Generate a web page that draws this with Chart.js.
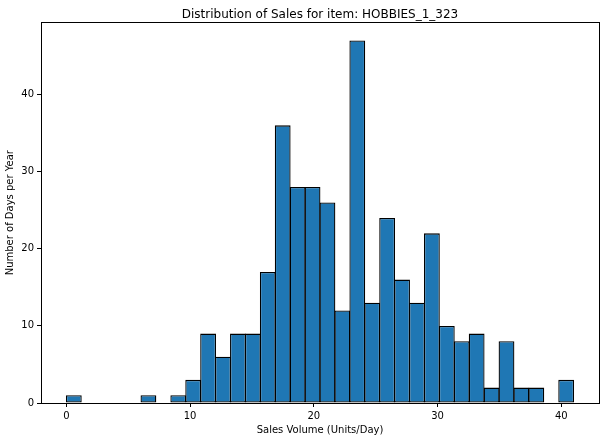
<!DOCTYPE html>
<html>
<head>
<meta charset="utf-8">
<script src="https://cdn.jsdelivr.net/npm/chart.js@4.4.1/dist/chart.umd.min.js"></script>
<style>
  html, body { margin: 0; padding: 0; background: #fff; }
  #wrap { width: 606px; height: 441px; position: relative; }
</style>
</head>
<body>
<div id="wrap"><canvas id="histChart"></canvas></div>
<script>
// histogram: 34 equal bins between 0 and 41
const binStart = 0;
const binEnd = 41;
const binCounts = [1, 0, 0, 0, 0, 1, 0, 1, 3, 9, 6, 9, 9, 17, 36, 28, 28, 26, 12, 47,
                   13, 24, 16, 13, 22, 10, 8, 9, 2, 8, 2, 2, 0, 3];
const xTicks = [0, 10, 20, 30, 40];
const yTicks = [0, 10, 20, 30, 40];

const binWidth = (binEnd - binStart) / binCounts.length;
const histPoints = binCounts.map((c, i) => ({ x: binStart + (i + 0.5) * binWidth, y: c }));

const tickFont = { family: 'DejaVu Sans', size: 10 };

// matplotlib draws a box on all four sides
const frameBox = {
    id: 'frameBox',
    afterDraw(chart) {
        const { ctx, chartArea } = chart;
        ctx.save();
        ctx.strokeStyle = '#000';
        ctx.lineWidth = 1;
        ctx.strokeRect(Math.round(chartArea.left) + 0.5, Math.round(chartArea.top) + 0.5,
            Math.round(chartArea.right - chartArea.left), Math.round(chartArea.bottom - chartArea.top));
        ctx.restore();
    }
};

new Chart(document.getElementById('histChart'), {
    type: 'bar',
    data: {
        datasets: [{
            data: histPoints,
            backgroundColor: '#1f77b4',
            borderColor: '#000',
            borderWidth: 1.3,
            borderSkipped: false,
            barPercentage: 1.06,
            categoryPercentage: 1
        }]
    },
    options: {
        responsive: true,
        maintainAspectRatio: false,
        animation: false,
        layout: { padding: { left: 0, right: 7, top: 0, bottom: 0 } },
        plugins: {
            legend: { display: false },
            tooltip: { enabled: false },
            title: {
                display: true,
                text: 'Distribution of Sales for item: HOBBIES_1_323',
                color: '#000',
                fullSize: false,
                font: { family: 'DejaVu Sans', size: 12, weight: 'normal' },
                padding: { top: 8, bottom: 0 }
            }
        },
        scales: {
            x: {
                type: 'linear',
                min: -2.05,
                max: 43.05,
                offset: false,
                afterFit: (scale) => { scale.height = 38; },
                afterBuildTicks: (scale) => { scale.ticks = xTicks.map(v => ({ value: v })); },
                ticks: { color: '#000', font: tickFont, padding: 3, includeBounds: false },
                grid: { drawOnChartArea: false, drawTicks: true, tickLength: 4, tickColor: '#000', offset: false },
                border: { display: true, color: '#000' },
                title: {
                    display: true,
                    text: 'Sales Volume (Units/Day)',
                    color: '#000',
                    font: tickFont,
                    padding: { top: 0, bottom: 5 }
                }
            },
            y: {
                min: 0,
                max: 49.35,
                afterFit: (scale) => { scale.width = 41; },
                afterBuildTicks: (scale) => { scale.ticks = yTicks.map(v => ({ value: v })); },
                ticks: { color: '#000', font: tickFont, padding: 3, includeBounds: false },
                grid: { drawOnChartArea: false, drawTicks: true, tickLength: 4, tickColor: '#000' },
                border: { display: true, color: '#000' },
                title: {
                    display: true,
                    text: 'Number of Days per Year',
                    color: '#000',
                    font: tickFont,
                    padding: { top: 4, bottom: 0 }
                }
            }
        }
    },
    plugins: [frameBox]
});
</script>
</body>
</html>
